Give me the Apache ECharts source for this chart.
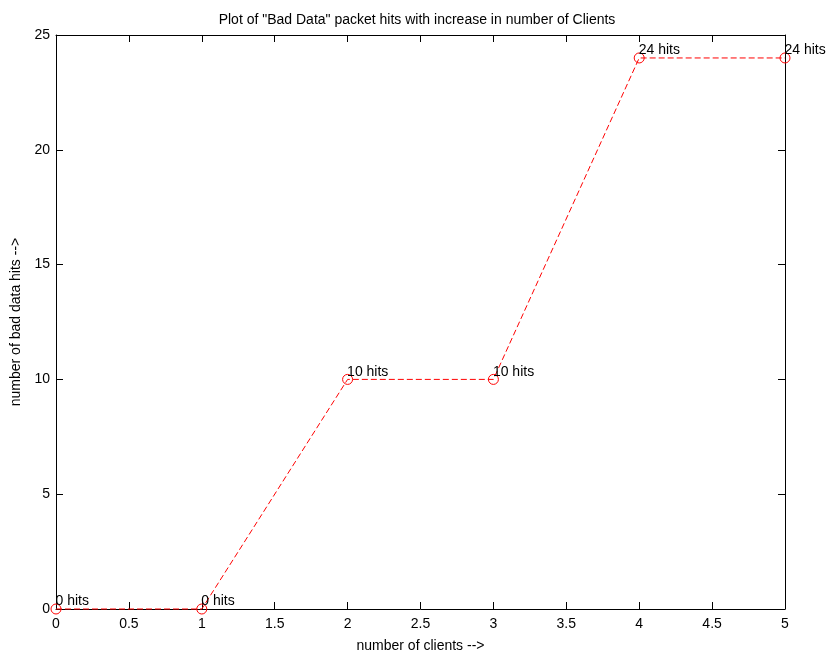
<!DOCTYPE html>
<html>
<head>
<meta charset="utf-8">
<script src="https://cdn.jsdelivr.net/npm/echarts@6/dist/echarts.min.js"></script>
<style>
  html, body { margin: 0; padding: 0; background: #fff; }
  #chart { width: 834px; height: 654px; }
</style>
</head>
<body>
<div id="chart"></div>
<script>
const clients = [0, 1, 2, 3, 4, 5]
const badHits = [0, 0, 10, 10, 24, 24]
const hitLabels = ['0 hits', '0 hits', '10 hits', '10 hits', '24 hits', '24 hits']

const chart = echarts.init(document.getElementById('chart'))
const font = 'Liberation Sans, Arial, Helvetica, sans-serif'
const axisBase = {
  type: 'value',
  axisLine: { show: true, onZero: false, lineStyle: { color: '#000', width: 1 } },
  axisTick: { show: true, inside: true, length: 7, lineStyle: { color: '#000' } },
  splitLine: { show: false }
}
const options = {
  animation: false,
  title: {
    text: 'Plot of "Bad Data" packet hits with increase in number of Clients',
    left: 'center',
    top: 8,
    textStyle: { fontFamily: font, fontSize: 14, fontWeight: 'normal', color: '#000' }
  },
  grid: { left: 56, right: 49, top: 35, bottom: 45, containLabel: false, outerBoundsMode: 'none' },
  xAxis: [
    Object.assign({}, axisBase, {
      min: 0, max: 5, interval: 0.5,
      name: 'number of clients -->',
      nameLocation: 'middle',
      nameGap: 30,
      nameTextStyle: { fontFamily: font, fontSize: 14, color: '#000' },
      axisLabel: { fontFamily: font, fontSize: 14, color: '#000', margin: 8 }
    }),
    Object.assign({}, axisBase, {
      position: 'top', min: 0, max: 5, interval: 0.5,
      axisLabel: { show: false }
    })
  ],
  yAxis: [
    Object.assign({}, axisBase, {
      min: 0, max: 25, interval: 5,
      name: 'number of bad data hits -->',
      nameLocation: 'middle',
      nameGap: 26,
      nameTextStyle: { fontFamily: font, fontSize: 14, color: '#000' },
      axisLabel: { fontFamily: font, fontSize: 14, color: '#000', margin: 6 }
    }),
    Object.assign({}, axisBase, {
      position: 'right', min: 0, max: 25, interval: 5,
      axisLabel: { show: false }
    })
  ],
  series: [
    {
      type: 'line',
      clip: false,
      data: clients.map((x, i) => [x, badHits[i]]),
      symbol: 'circle',
      symbolSize: 10,
      itemStyle: { color: 'rgba(0,0,0,0)', borderColor: '#ff0000', borderWidth: 1 },
      lineStyle: { color: '#ff0000', width: 1, type: [6, 3] },
      label: {
        show: true,
        position: [5, 5],
        align: 'left',
        verticalAlign: 'bottom',
        fontFamily: font,
        fontSize: 14,
        color: '#000',
        formatter: p => hitLabels[p.dataIndex]
      }
    }
  ]
}
chart.setOption(options)
</script>
</body>
</html>
